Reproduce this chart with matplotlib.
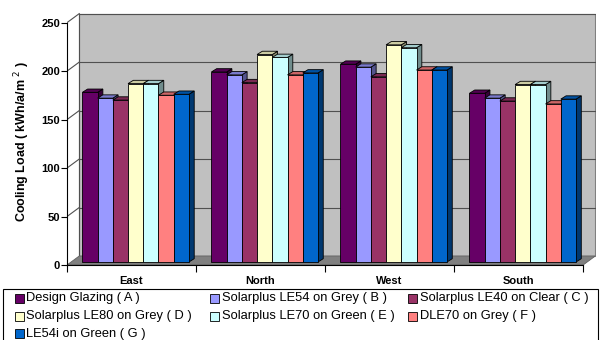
import matplotlib
matplotlib.use("Agg")
import matplotlib.pyplot as plt
from matplotlib.patches import Polygon, Rectangle
import matplotlib.colors as mcolors

plt.rcParams['font.family'] = ['Liberation Sans', 'DejaVu Sans']

# ---- data ----
orientations = ["East", "North", "West", "South"]
glazings = ["Design Glazing ( A )", "Solarplus LE54 on Grey ( B )",
            "Solarplus LE40 on Clear ( C )", "Solarplus LE80 on Grey ( D )",
            "Solarplus LE70 on Green ( E )", "DLE70 on Grey ( F )",
            "LE54i on Green ( G )"]
load_A = [175, 196, 204, 174]
load_B = [169, 193, 201, 169]
load_C = [167, 185, 191, 166]
load_D = [184, 214, 224, 183]
load_E = [184, 211, 221, 183]
load_F = [172, 193, 198, 163]
load_G = [173, 195, 198, 168]
series = [load_A, load_B, load_C, load_D, load_E, load_F, load_G]
colors = ["#660066", "#9999FF", "#993366", "#FFFFCC", "#CCFFFF", "#FF8080", "#0066CC"]
yticks = [0, 50, 100, 150, 200, 250]

# ---- pseudo-3D geometry (in data units) ----
wall_dx, wall_dy = 0.095, 9.3      # back wall offset
bar_dx, bar_dy = 0.032, 3.1        # where bar fronts sit
dep_dx, dep_dy = 0.041, 3.4        # bar depth
bw = 0.118
margin = (1 - 7 * bw) / 2

def shade(c, f):
    r, g, b = mcolors.to_rgb(c)
    return (r * f, g * f, b * f)

W, H = 600, 340
fig = plt.figure(figsize=(W / 100, H / 100), dpi=100)
ax = fig.add_axes([67 / W, 75 / H, 529 / W, 254 / H])
ax.set_xlim(0, 4.1)
ax.set_ylim(0, 262)

# back wall
ax.add_patch(Polygon([(wall_dx, wall_dy), (4 + wall_dx, wall_dy),
                      (4 + wall_dx, 250 + wall_dy), (wall_dx, 250 + wall_dy)],
                     closed=True, facecolor="#C0C0C0", edgecolor="#808080",
                     lw=0.8, zorder=0))
for v in yticks[1:]:
    ax.plot([wall_dx, 4 + wall_dx], [v + wall_dy, v + wall_dy],
            color="#505050", lw=0.8, zorder=1)
    ax.plot([0, wall_dx], [v, v + wall_dy], color="#505050", lw=0.8, zorder=1)
ax.plot([wall_dx, wall_dx], [wall_dy, 250 + wall_dy], color="#505050", lw=0.8, zorder=1)

# floor
ax.add_patch(Polygon([(0, 0), (4, 0), (4 + wall_dx, wall_dy), (wall_dx, wall_dy)],
                     closed=True, facecolor="#808080", edgecolor="#606060",
                     lw=0.6, zorder=1))

# columns
z = 2
for gi in range(len(orientations)):
    for si, (vals, col) in enumerate(zip(series, colors)):
        v = vals[gi]
        xl = gi + margin + si * bw + bar_dx
        b0 = bar_dy
        top = b0 + v
        ax.add_patch(Polygon([(xl + bw, b0), (xl + bw, top),
                              (xl + bw + dep_dx, top + dep_dy),
                              (xl + bw + dep_dx, b0 + dep_dy)],
                             closed=True, facecolor=shade(col, 0.55),
                             edgecolor="black", lw=0.6, zorder=z))
        ax.add_patch(Polygon([(xl, top), (xl + bw, top),
                              (xl + bw + dep_dx, top + dep_dy),
                              (xl + dep_dx, top + dep_dy)],
                             closed=True, facecolor=shade(col, 0.8),
                             edgecolor="black", lw=0.6, zorder=z))
        ax.bar(xl + bw / 2, v, width=bw, bottom=b0, color=col,
               edgecolor="black", linewidth=0.6, zorder=z + 1)
        z += 2

# axes styling
for s in ["top", "right"]:
    ax.spines[s].set_visible(False)
ax.spines["left"].set_bounds(0, 250)
ax.spines["bottom"].set_bounds(0, 4)
ax.spines["left"].set_zorder(200)
ax.spines["bottom"].set_zorder(200)
ax.set_yticks(yticks)
ax.set_yticklabels([str(t) for t in yticks], fontsize=8, fontweight="bold")
ax.tick_params(axis="y", length=4, width=0.8, pad=1)
ax.set_xticks([0, 1, 2, 3, 4])
ax.set_xticklabels([])
ax.tick_params(axis="x", which="major", length=5, width=0.8)
ax.set_xticks([0.5, 1.5, 2.5, 3.5], minor=True)
ax.set_xticklabels(orientations, minor=True, fontsize=8, fontweight="bold")
ax.tick_params(axis="x", which="minor", length=0, pad=8)
ax.set_facecolor("none")

fig.text(22 / W, 1 - 142 / H, "Cooling Load ( kWh/a/m $^{2}$ )",
         rotation=90, ha="center", va="center", fontsize=9, fontweight="bold")

# legend: fixed-width columns, filled row by row
fig.patches.append(Rectangle((3 / W, -0.05), 595 / W, 0.05 + (H - 288.5) / H,
                             transform=fig.transFigure, facecolor="white",
                             edgecolor="black", lw=0.8, zorder=0))
col_x = [15, 210, 408]
row_y = [298.5, 316.5, 333.5]
msize = 9
for k, (name, col) in enumerate(zip(glazings, colors)):
    r, c = divmod(k, 3)
    x0, yc = col_x[c], row_y[r]
    fig.patches.append(Rectangle((x0 / W, 1 - (yc + msize / 2) / H),
                                 msize / W, msize / H,
                                 transform=fig.transFigure, facecolor=col,
                                 edgecolor="black", lw=0.6, zorder=2))
    fig.text((x0 + msize + 2.5) / W, 1 - yc / H, name, ha="left", va="center",
             fontsize=9.3)

fig.savefig("out.png", dpi=100)
